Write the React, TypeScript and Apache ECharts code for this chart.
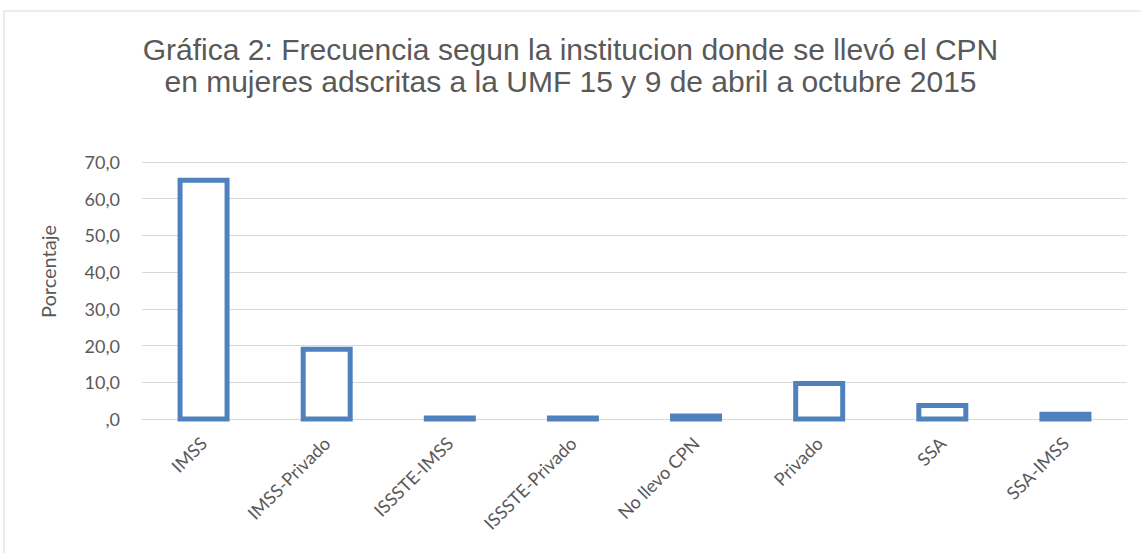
import React, { useEffect, useRef } from "react";
import * as echarts from "echarts";

const categories = ["IMSS", "IMSS-Privado", "ISSSTE-IMSS", "ISSSTE-Privado", "No llevo CPN", "Privado", "SSA", "SSA-IMSS"];
const values = [65.0, 19.0, 0.3, 0.3, 0.8, 9.7, 3.7, 1.3];
const yTicks = { min: 0, max: 70, interval: 10 };
const titleText = "Gráfica 2: Frecuencia segun la institucion donde se llevó el CPN\nen mujeres adscritas a la UMF 15 y 9 de abril a octubre 2015";

export default function App() {
  const ref = useRef<HTMLDivElement>(null);
  useEffect(() => {
    if (!ref.current) return;
    const chart = echarts.init(ref.current, null, { renderer: "svg" });
    chart.setOption({
      animation: false,
      backgroundColor: "#ffffff",
      graphic: [
        {
          type: "rect",
          shape: { x: 4, y: 11, width: 1200, height: 600 },
          style: { fill: "none", stroke: "#d9d9d9", lineWidth: 1 },
          silent: true,
        },
      ],
      title: {
        text: titleText,
        left: "center",
        top: 28,
        textStyle: {
          fontFamily: "Liberation Sans",
          fontSize: 30,
          fontWeight: "normal",
          color: "#595959",
          lineHeight: 32,
        },
      },
      grid: { left: 142, right: 14, top: 162, bottom: 134 },
      xAxis: {
        type: "category",
        data: categories,
        axisLine: { show: true, lineStyle: { color: "#d9d9d9", width: 1 } },
        axisTick: { show: false },
        axisLabel: {
          rotate: 45,
          margin: 21,
          fontFamily: "Lato",
          fontSize: 18,
          color: "#595959",
          interval: 0,
        },
      },
      yAxis: {
        type: "value",
        min: yTicks.min,
        max: yTicks.max,
        interval: yTicks.interval,
        name: "Porcentaje",
        nameLocation: "middle",
        nameGap: 84,
        nameTextStyle: { fontFamily: "Lato", fontSize: 20, color: "#595959", padding: [0, 0, 0, 38] },
        axisLine: { show: false },
        axisTick: { show: false },
        splitLine: { lineStyle: { color: "#d9d9d9", width: 1 } },
        axisLabel: {
          margin: 22,
          fontFamily: "Lato",
          fontSize: 18,
          color: "#595959",
          formatter: (v: number) => (v === 0 ? ",0" : v.toFixed(1).replace(".", ",")),
        },
      },
      series: [
        {
          type: "custom",
          data: values.map((v, i) => [i, v]),
          encode: { x: 0, y: 1 },
          renderItem: (params: any, api: any) => {
            const top = api.coord([api.value(0), api.value(1)]);
            const base = api.coord([api.value(0), 0]);
            const w = 47;
            return {
              type: "rect",
              shape: { x: top[0] - w / 2, y: top[1], width: w, height: base[1] - top[1] },
              style: { fill: "#ffffff", stroke: "#4f81bd", lineWidth: 5 },
            };
          },
        },
      ],
    });
    return () => chart.dispose();
  }, []);
  return <div ref={ref} style={{ position: "fixed", left: 0, top: 0, width: 1141, height: 553 }} />;
}
